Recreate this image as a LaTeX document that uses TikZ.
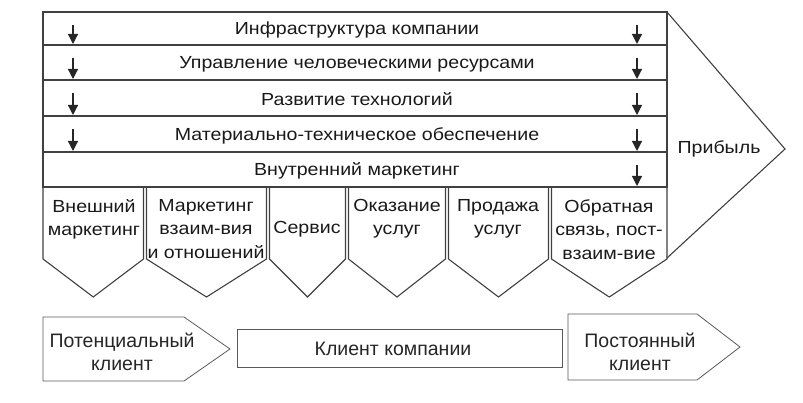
\documentclass[tikz,border=0pt]{standalone}
\usepackage{fontspec}
\setmainfont{Liberation Sans}
\newfontfamily\wideface[FakeStretch=1.12]{Liberation Sans}
\usetikzlibrary{arrows.meta}

\tikzset{
	line/.style={draw=black!75, line width=1.1pt},
	thinline/.style={draw=black!65, line width=0.8pt},
	rowtext/.style={font=\wideface\fontsize{17.5}{21}\selectfont, text=black!90},
	coltext/.style={font=\wideface\fontsize{17.5}{23.5}\selectfont, align=center, text=black!90, inner sep=0pt},
	clienttext/.style={font=\fontsize{19.5}{23}\selectfont, align=center, text=black!85, inner sep=0pt},
	rowarrow/.style={draw=black!85, line width=1.2pt, -{Triangle[width=10pt,length=10pt]}}
}

\begin{document}
\begin{tikzpicture}[x=1pt, y=-1pt]
	\useasboundingbox (0,0) rectangle (803,403);
	
	% support activities
	\foreach \n/\a/\b/\t in {infra/12/45/Инфраструктура компании,
			hr/45/80/Управление человеческими ресурсами,
			tech/80/116/Развитие технологий,
			supply/116/152/Материально-техническое обеспечение,
			inner/152/187/Внутренний маркетинг}{
		\draw[line] (43,\a) rectangle (667,\b);
		\node[rowtext] (\n) at (357,{(\a+\b)/2+1.5}) {\t};
		\draw[rowarrow] (637,{\a+13}) -- (637,{\b-1});
	}
	\foreach \a/\b in {12/45, 45/80, 80/116, 116/152}{
		\draw[rowarrow] (73,{\a+13}) -- (73,{\b-1});
	}
	
	% primary activities
	\foreach \n/\l/\r in {ext/43/143.5, rel/146.5/266.5, serv/269.5/345.5,
			prov/348.5/445.5, sale/448.5/548.5, feed/551.5/667}{
		\draw[line] (\l,187) -- (\l,259) -- ({(\l+\r)/2},297) -- (\r,259) -- (\r,187);
	}
	\node[coltext, anchor=north] (extt) at (94,199) {Внешний\\маркетинг};
	\node[coltext, anchor=north] (relt) at (206,199) {Маркетинг\\взаим-вия\\и отношений};
	\node[coltext] (servt) at (307,229) {Сервис};
	\node[coltext, anchor=north] (provt) at (397,199) {Оказание\\услуг};
	\node[coltext, anchor=north] (salet) at (498,199) {Продажа\\услуг};
	\node[coltext, anchor=north] (feedt) at (609,199) {Обратная\\связь, пост-\\взаим-вие};
	
	% margin
	\draw[line] (667,12) -- (785,149) -- (667,258);
	\node[rowtext] (profit) at (719,149) {Прибыль};
	
	% client stages
	\draw[thinline] (43,317) -- (184,317) -- (230,349) -- (184,381) -- (43,381) -- cycle;
	\node[clienttext] (potential) at (122,352) {Потенциальный\\клиент};
	\draw[thinline] (237,329) rectangle (562,367);
	\node[clienttext] (client) at (393,349) {Клиент компании};
	\draw[thinline] (568,314) -- (697,314) -- (740,347) -- (697,380) -- (568,380) -- cycle;
	\node[clienttext] (regular) at (640,352) {Постоянный\\клиент};
	
\end{tikzpicture}
\end{document}
